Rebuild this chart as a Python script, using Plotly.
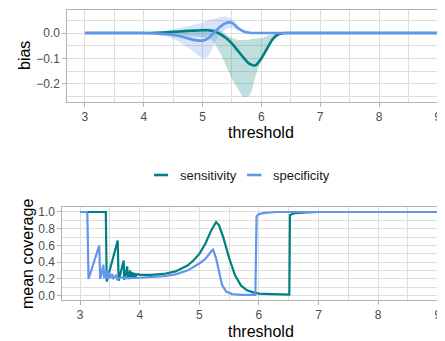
import plotly.graph_objects as go

# ---------------- data ----------------
# top panel: bias vs threshold
bias_t = [3.0, 3.5, 4.0, 4.2, 4.4, 4.6, 4.8, 4.9, 5.0, 5.1, 5.2, 5.3, 5.4, 5.5,
          5.6, 5.7, 5.8, 5.9, 6.0, 6.1, 6.2, 6.3, 6.4, 6.5, 7.0, 8.0, 9.0]
sens_bias = [0, 0, 0, 0.001, 0.003, 0.006, 0.009, 0.010, 0.011, 0.011, 0.006, -0.004, -0.02, -0.042,
             -0.07, -0.098, -0.122, -0.127, -0.1, -0.06, -0.022, -0.004, 0, 0, 0, 0, 0]
sens_lo = [0, 0, 0, -0.002, -0.006, -0.01, -0.014, -0.015, -0.016, -0.02, -0.04, -0.08, -0.13, -0.18,
           -0.22, -0.252, -0.245, -0.17, -0.105, -0.06, -0.02, -0.005, 0, 0, 0, 0, 0]
sens_hi = [0, 0, 0, 0.001, 0.005, 0.009, 0.014, 0.016, 0.018, 0.018, 0.017, 0.01, -0.005, -0.02,
           -0.027, -0.027, -0.025, -0.022, -0.02, -0.012, -0.004, 0, 0, 0, 0, 0, 0]
spec_bias = [0, 0, 0, -0.002, -0.005, -0.012, -0.024, -0.029, -0.03, -0.02, 0.002, 0.025, 0.04, 0.04,
             0.02, 0.006, 0.001, 0, 0, 0, 0, 0, 0, 0, 0, 0, 0]
spec_lo = [0, 0, 0, -0.005, -0.015, -0.035, -0.065, -0.085, -0.1, -0.09, -0.04, -0.005, 0.015, 0.02,
           0.01, 0.002, 0, 0, 0, 0, 0, 0, 0, 0, 0, 0, 0]
spec_hi = [0, 0, 0, 0.003, 0.01, 0.02, 0.03, 0.036, 0.042, 0.05, 0.056, 0.062, 0.065, 0.055,
           0.03, 0.01, 0.002, 0, 0, 0, 0, 0, 0, 0, 0, 0, 0]

# bottom panel: mean coverage vs threshold
sens_cov_t = [3.0, 3.43, 3.445, 3.63, 3.645, 3.73, 3.74, 3.79, 3.80, 3.84, 3.85, 3.88, 3.89, 3.92,
              3.93, 3.96, 4.0, 4.2, 4.4, 4.6, 4.8, 4.9, 5.0, 5.1, 5.2, 5.28, 5.33, 5.4, 5.5,
              5.6, 5.7, 5.8, 5.9, 6.0, 6.2, 6.4, 6.51, 6.52, 6.6, 6.8, 7.0, 9.0]
sens_cov = [1.0, 1.0, 0.17, 0.66, 0.18, 0.42, 0.19, 0.35, 0.2, 0.30, 0.21, 0.28, 0.22, 0.27,
            0.23, 0.26, 0.25, 0.25, 0.26, 0.29, 0.36, 0.42, 0.50, 0.62, 0.78, 0.88, 0.84, 0.70, 0.45,
            0.24, 0.12, 0.065, 0.04, 0.025, 0.018, 0.013, 0.012, 0.965, 0.985, 0.996, 1.0, 1.0]
spec_cov_t = [3.0, 3.10, 3.12, 3.14, 3.32, 3.335, 3.39, 3.40, 3.44, 3.45, 3.49, 3.50, 3.54, 3.55,
              3.6, 3.62, 3.7, 3.8, 4.0, 4.2, 4.4, 4.6, 4.8, 5.0, 5.1, 5.2, 5.23, 5.28, 5.33,
              5.38, 5.45, 5.55, 5.7, 5.94, 5.96, 6.0, 6.1, 6.3, 9.0]
spec_cov = [1.0, 1.0, 0.99, 0.2, 0.6, 0.2, 0.37, 0.21, 0.31, 0.2, 0.28, 0.21, 0.26, 0.2,
            0.24, 0.2, 0.22, 0.21, 0.215, 0.225, 0.235, 0.255, 0.3, 0.385, 0.44, 0.53, 0.55, 0.45, 0.28,
            0.13, 0.05, 0.02, 0.01, 0.01, 0.95, 0.975, 0.99, 1.0, 1.0]

series_names = ["sensitivity", "specificity"]
TEAL = "#008080"
BLUE = "#6495ED"

# page has an 8px body margin: figure occupies page (8,8)-(445,341)
OFF = 8
W, H = 445 - OFF, 341 - OFF
def PX(x):
    return (x - OFF) / W
def PY(y):
    return 1 - (y - OFF) / H

fig = go.Figure()

# ribbons (top)
for hi, lo, col in [(sens_hi, sens_lo, "rgba(0,128,128,0.25)"),
                    (spec_hi, spec_lo, "rgba(100,149,237,0.25)")]:
    fig.add_trace(go.Scatter(x=bias_t, y=hi, mode="lines", line=dict(width=0, shape="spline", smoothing=0.8),
                             showlegend=False, hoverinfo="skip", xaxis="x", yaxis="y"))
    fig.add_trace(go.Scatter(x=bias_t, y=lo, mode="lines", line=dict(width=0, shape="spline", smoothing=0.8),
                             fill="tonexty", fillcolor=col, showlegend=False, hoverinfo="skip",
                             xaxis="x", yaxis="y"))
# lines (top)
fig.add_trace(go.Scatter(x=bias_t, y=sens_bias, mode="lines", name=series_names[0],
                         line=dict(color=TEAL, width=2.6, shape="spline", smoothing=0.8),
                         showlegend=False, xaxis="x", yaxis="y"))
fig.add_trace(go.Scatter(x=bias_t, y=spec_bias, mode="lines", name=series_names[1],
                         line=dict(color=BLUE, width=2.6, shape="spline", smoothing=0.8),
                         showlegend=False, xaxis="x", yaxis="y"))
# lines (bottom)
fig.add_trace(go.Scatter(x=sens_cov_t, y=sens_cov, mode="lines", name=series_names[0],
                         line=dict(color=TEAL, width=2.2), showlegend=False, xaxis="x2", yaxis="y2"))
fig.add_trace(go.Scatter(x=spec_cov_t, y=spec_cov, mode="lines", name=series_names[1],
                         line=dict(color=BLUE, width=2.2), showlegend=False, xaxis="x2", yaxis="y2"))

GRID = "#DEDEDE"
BORDER = "#B3B3B3"
TICKFONT = dict(family="Liberation Sans, Arial, sans-serif", size=12, color="#4D4D4D")

def xax(dom_lo, anchor):
    return dict(domain=[dom_lo, 1.0], range=[2.7, 9.122], anchor=anchor,
                tick0=3, dtick=1, showgrid=True, gridcolor=GRID, gridwidth=1,
                minor=dict(showgrid=True, gridcolor=GRID, gridwidth=0.6, dtick=0.5, tick0=3),
                showline=True, linecolor=BORDER, linewidth=1, mirror=True,
                ticks="outside", ticklen=4, tickcolor=BORDER, tickwidth=1,
                tickfont=TICKFONT, zeroline=False, automargin=False)

def yax(dom, rng, dtick, minor_dtick, fmt, anchor):
    return dict(domain=dom, range=rng, anchor=anchor, tick0=0, dtick=dtick,
                showgrid=True, gridcolor=GRID, gridwidth=1,
                minor=dict(showgrid=True, gridcolor=GRID, gridwidth=0.6, dtick=minor_dtick, tick0=0),
                showline=True, linecolor=BORDER, linewidth=1, mirror=False,
                ticks="outside", ticklen=4, tickcolor=BORDER, tickwidth=1,
                tickfont=TICKFONT, tickformat=fmt, zeroline=False, automargin=False)

top_dom = [PY(102), PY(10.3)]
bot_dom = [PY(300), PY(207.3)]

fig.update_layout(
    width=W, height=H,
    margin=dict(l=0, r=0, t=0, b=0, pad=0),
    paper_bgcolor="white", plot_bgcolor="white",
    font=dict(family="Liberation Sans, Arial, sans-serif", color="#000000"),
    showlegend=False,
    xaxis=xax(PX(67.3), "y"),
    yaxis=yax(top_dom, [-0.272, 0.0897], 0.1, 0.05, ".1f", "x"),
    xaxis2=xax(PX(62.3), "y2"),
    yaxis2=yax(bot_dom, [-0.051, 1.056], 0.2, 0.1, ".1f", "x2"),
)
fig.update_yaxes(selector=dict(anchor="x"), tickvals=[-0.2, -0.1, 0.0],
                 ticktext=["\u22120.2", "\u22120.1", "0.0"])

TITLEFONT = dict(family="Liberation Sans, Arial, sans-serif", size=16, color="#000000")
ann = [
    dict(text="bias", x=PX(25), y=PY(56), textangle=-90),
    dict(text="threshold", x=PX(261), y=PY(133), textangle=0),
    dict(text="mean coverage", x=PX(27), y=PY(254), textangle=-90),
    dict(text="threshold", x=PX(261), y=PY(331.5), textangle=0),
]
annotations = [dict(xref="paper", yref="paper", xanchor="center", yanchor="middle",
                    showarrow=False, font=TITLEFONT, **a) for a in ann]
# legend (manual)
LEGFONT = dict(family="Liberation Sans, Arial, sans-serif", size=13, color="#1A1A1A")
annotations += [
    dict(text=series_names[0], x=PX(177.5), y=PY(175), xref="paper", yref="paper",
         xanchor="left", yanchor="middle", showarrow=False, font=LEGFONT),
    dict(text=series_names[1], x=PX(271), y=PY(175), xref="paper", yref="paper",
         xanchor="left", yanchor="middle", showarrow=False, font=LEGFONT),
]
shapes = [
    dict(type="line", xref="paper", yref="paper", x0=PX(154), x1=PX(168), y0=PY(175), y1=PY(175),
         line=dict(color=TEAL, width=2.6)),
    dict(type="line", xref="paper", yref="paper", x0=PX(247), x1=PX(261.5), y0=PY(175), y1=PY(175),
         line=dict(color=BLUE, width=2.6)),
]
fig.update_layout(annotations=annotations, shapes=shapes)

fig.write_html("out.html")
